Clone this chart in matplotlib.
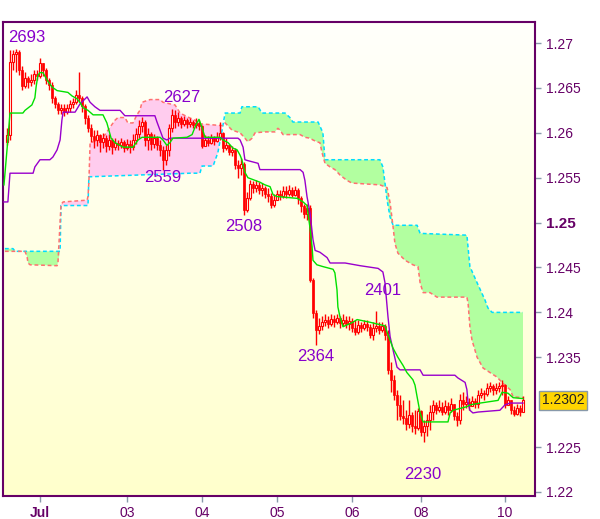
import numpy as np
import matplotlib
matplotlib.use('Agg')
import matplotlib.pyplot as plt

# prices in pips: 2598 -> 1.2598
first_open = 2590
closes = [2598, 2679, 2688, 2690, 2670, 2652, 2661, 2657, 2659, 2665,
          2663, 2678, 2670, 2659, 2653, 2639, 2632, 2625, 2628, 2623,
          2628, 2632, 2634, 2642, 2639, 2630, 2617, 2605, 2596, 2592,
          2598, 2590, 2594, 2585, 2592, 2584, 2589, 2586, 2590, 2583,
          2588, 2584, 2592, 2599, 2608, 2612, 2592, 2599, 2588, 2594,
          2586, 2581, 2570, 2581, 2605, 2620, 2612, 2617, 2610, 2614,
          2610, 2612, 2609, 2611, 2608, 2585, 2592, 2589, 2594, 2591,
          2595, 2600, 2583, 2586, 2579, 2581, 2564, 2561, 2565, 2514,
          2527, 2543, 2539, 2542, 2536, 2539, 2532, 2530, 2520, 2525,
          2532, 2530, 2535, 2532, 2536, 2531, 2536, 2527, 2519, 2510,
          2516, 2436, 2399, 2380, 2385, 2389, 2392, 2387, 2393, 2389,
          2394, 2388, 2392, 2387, 2390, 2383, 2378, 2386, 2383, 2387,
          2384, 2375, 2383, 2385, 2380, 2385, 2375, 2336, 2325, 2308,
          2297, 2285, 2282, 2276, 2286, 2273, 2271, 2290, 2267, 2273,
          2280, 2289, 2297, 2291, 2295, 2289, 2296, 2291, 2298, 2285,
          2280, 2302, 2298, 2300, 2296, 2301, 2298, 2308, 2310, 2309,
          2316, 2318, 2314, 2316, 2318, 2319, 2297, 2302, 2291, 2287,
          2293, 2289, 2302]
highs = [2605, 2692, 2692, 2693, 2692, 2674, 2668, 2663, 2665, 2670,
         2670, 2683, 2677, 2672, 2661, 2657, 2641, 2634, 2632, 2632,
         2632, 2637, 2639, 2648, 2668, 2641, 2632, 2620, 2610, 2603,
         2603, 2599, 2600, 2598, 2599, 2594, 2594, 2592, 2594, 2592,
         2593, 2592, 2599, 2605, 2614, 2618, 2614, 2605, 2601, 2599,
         2596, 2592, 2585, 2586, 2610, 2627, 2625, 2623, 2619, 2619,
         2617, 2617, 2614, 2617, 2614, 2609, 2598, 2596, 2599, 2596,
         2601, 2612, 2601, 2594, 2588, 2585, 2583, 2570, 2572, 2567,
         2534, 2547, 2546, 2547, 2545, 2544, 2541, 2539, 2533, 2532,
         2536, 2536, 2541, 2541, 2542, 2540, 2541, 2539, 2530, 2521,
         2521, 2520, 2438, 2403, 2394, 2396, 2398, 2396, 2398, 2397,
         2398, 2396, 2398, 2396, 2396, 2394, 2392, 2392, 2389, 2392,
         2392, 2387, 2389, 2401, 2389, 2389, 2387, 2380, 2345, 2330,
         2314, 2308, 2302, 2291, 2302, 2289, 2291, 2293, 2291, 2280,
         2287, 2297, 2302, 2300, 2302, 2300, 2302, 2300, 2305, 2298,
         2289, 2309, 2311, 2307, 2305, 2307, 2305, 2314, 2316, 2314,
         2321, 2322, 2320, 2321, 2322, 2325, 2320, 2307, 2302, 2296,
         2298, 2297, 2307]
lows = [2586, 2592, 2670, 2668, 2664, 2648, 2650, 2650, 2652, 2654,
        2659, 2661, 2663, 2654, 2648, 2633, 2628, 2621, 2621, 2619,
        2621, 2623, 2628, 2632, 2634, 2623, 2610, 2601, 2590, 2583,
        2585, 2579, 2583, 2579, 2581, 2576, 2581, 2581, 2583, 2579,
        2581, 2578, 2581, 2588, 2594, 2601, 2585, 2581, 2581, 2583,
        2581, 2574, 2559, 2564, 2574, 2601, 2605, 2608, 2605, 2608,
        2605, 2606, 2605, 2605, 2603, 2583, 2585, 2585, 2588, 2586,
        2590, 2592, 2579, 2581, 2575, 2574, 2560, 2550, 2553, 2508,
        2512, 2525, 2533, 2534, 2532, 2530, 2527, 2523, 2516, 2517,
        2525, 2525, 2527, 2527, 2530, 2529, 2530, 2521, 2512, 2505,
        2503, 2434, 2394, 2364, 2376, 2380, 2385, 2383, 2385, 2384,
        2387, 2383, 2385, 2383, 2380, 2378, 2375, 2376, 2378, 2380,
        2379, 2372, 2369, 2378, 2376, 2378, 2369, 2331, 2311, 2302,
        2280, 2280, 2276, 2269, 2271, 2267, 2265, 2269, 2262, 2256,
        2262, 2269, 2280, 2287, 2289, 2286, 2287, 2286, 2289, 2280,
        2273, 2276, 2291, 2293, 2291, 2296, 2293, 2293, 2305, 2302,
        2307, 2311, 2308, 2309, 2311, 2308, 2293, 2298, 2287, 2285,
        2286, 2285, 2289]

# indicator lines: (bar index, pips) at turning points
tenkan_x = [-1, 0, 1, 5.3, 6, 8.3, 9.3, 9.7, 10.3, 11, 12, 13.3, 15, 16.7, 20.3, 21.7,
            23.3, 24.3, 25.3, 27, 28.7, 32, 33.3, 34.7, 36, 38.7, 42, 43.7, 45, 51,
            52, 53.3, 54.3, 55.3, 60, 61.7, 63, 64, 65, 66, 71, 72, 73.7, 75.3, 76.7,
            77.7, 78.3, 79.3, 80.3, 84.3, 86, 87.7, 88.7, 90, 96.7, 98.7, 100, 100.3,
            101, 101.7, 102, 103.3, 105.3, 108.7, 109.3, 110, 110.3, 111, 112, 113.3,
            115.3, 116.7, 121, 126, 127, 128.7, 130.3, 132, 133.3, 135.3, 136, 136.7,
            137.7, 138.7, 147, 147.7, 148.7, 153.3, 154.3, 157.7, 163.7, 165, 167,
            168.7, 172]
tenkan_v = [2542, 2581, 2622, 2622, 2625, 2631, 2639, 2651, 2664, 2667, 2667, 2659,
            2651, 2647, 2645, 2641, 2638, 2634, 2628, 2625, 2620, 2620, 2611, 2594,
            2589, 2584, 2584, 2592, 2595, 2595, 2592, 2586, 2589, 2594, 2595, 2598,
            2609, 2615, 2606, 2595, 2595, 2592, 2589, 2583, 2581, 2575, 2570, 2556,
            2550, 2545, 2542, 2540, 2531, 2529, 2527, 2523, 2519, 2511, 2494, 2473,
            2458, 2453, 2451, 2448, 2444, 2425, 2406, 2395, 2384, 2386, 2389, 2392,
            2389, 2385, 2375, 2360, 2350, 2341, 2333, 2325, 2319, 2306, 2288, 2278,
            2278, 2288, 2291, 2295, 2297, 2299, 2302, 2311, 2310, 2305, 2304]

kijun_x = [-1, 0.3, 1, 8.7, 9.3, 11, 14.3, 15.3, 16.7, 17.7, 18.3, 18.7, 22.7, 24.3,
           26.7, 27.7, 29.3, 31, 37.7, 39.3, 49.3, 50, 51, 52, 53.3, 54.3, 77, 77.7,
           78.7, 79.3, 80.3, 83.7, 84.3, 97.7, 98.7, 99.3, 100, 101, 102, 102.7, 104.3,
           106.7, 107.7, 112.7, 117.7, 123.7, 125.3, 126, 127, 127.7, 128.7, 130, 131,
           137.7, 138.7, 149.3, 150.3, 152.7, 153.3, 153.7, 154.3, 155.3, 157, 164.3,
           166, 167.7, 172]
kijun_v = [2523, 2523, 2555, 2555, 2562, 2570, 2570, 2573, 2581, 2592, 2614, 2623,
           2623, 2632, 2640, 2634, 2629, 2625, 2625, 2619, 2619, 2612, 2603, 2594,
           2592, 2594, 2594, 2592, 2584, 2570, 2569, 2566, 2559, 2559, 2556, 2547,
           2529, 2511, 2481, 2469, 2467, 2461, 2455, 2455, 2452, 2449, 2445, 2433,
           2395, 2373, 2358, 2339, 2336, 2336, 2330, 2330, 2327, 2322, 2314, 2299,
           2291, 2288, 2289, 2291, 2297, 2299, 2299]

span_a_x = [-0.7, 2, 2.7, 17.7, 18, 27, 27.3, 61, 64.3, 65, 68.7, 70.3, 71.7, 72.7,
            77.7, 78.3, 83.7, 85, 92.7, 93.3, 94.3, 95.3, 103.7, 105.3, 106, 124.3,
            125.3, 126, 126.7, 127.7, 128.7, 136.7, 137.7, 153.3, 154.3, 156.7, 159.3,
            160.3, 161.7, 172]
span_a_v = [2471, 2471, 2468, 2468, 2519, 2519, 2551, 2555, 2555, 2563, 2563, 2578,
            2603, 2622, 2622, 2629, 2629, 2622, 2622, 2620, 2617, 2612, 2612, 2600,
            2570, 2570, 2562, 2544, 2525, 2506, 2497, 2497, 2488, 2486, 2451, 2433,
            2414, 2405, 2400, 2400]

span_b_x = [-0.7, 6, 6.7, 7, 7.7, 16.7, 17, 18, 18.7, 26.7, 27, 27.3, 27.7, 28.7, 31,
            32.7, 34.3, 36, 37, 39.3, 40.3, 42, 43.3, 44.3, 45, 47.7, 51, 52, 53.3, 56,
            57.7, 60, 62.7, 64.3, 71.7, 72.7, 75, 77.7, 79.3, 80.3, 81.7, 82.7, 86,
            89.3, 90.3, 91, 92, 97.7, 99.3, 101, 102, 103.3, 104.3, 105, 106, 107.7,
            109.3, 111, 113.3, 115, 124.3, 126.7, 127.7, 128.3, 128.7, 129.3, 130.3,
            132.7, 135.3, 137, 137.7, 138.7, 141, 143.3, 153.3, 153.7, 154.3, 155,
            156.7, 158.7, 161, 163.3, 165.3, 167.7, 168.7, 172]
span_b_v = [2468, 2468, 2462, 2455, 2453, 2452, 2456, 2520, 2523, 2525, 2529, 2545,
            2589, 2590, 2592, 2598, 2606, 2614, 2617, 2617, 2611, 2611, 2620, 2625,
            2634, 2637, 2637, 2634, 2633, 2631, 2622, 2618, 2614, 2610, 2608, 2611,
            2603, 2600, 2594, 2590, 2594, 2600, 2601, 2601, 2605, 2603, 2598, 2598,
            2595, 2594, 2592, 2590, 2589, 2578, 2566, 2562, 2559, 2553, 2547, 2544,
            2542, 2539, 2522, 2506, 2495, 2477, 2466, 2458, 2453, 2451, 2433, 2422,
            2422, 2417, 2417, 2410, 2384, 2369, 2350, 2338, 2333, 2328, 2321, 2314,
            2306, 2305]

day_bars = [11, 40, 65, 90, 115, 138, 166]
day_labels = ['Jul', '03', '04', '05', '06', '08', '10']

extreme_labels = ['2693', '2627', '2559', '2508', '2364', '2401', '2230']
extreme_bars = [6.7, 58.3, 52, 79, 103, 125.3, 138.7]
extreme_pips = [2706, 2639, 2550, 2496, 2351, 2424, 2219]

last_price = 1.2302


def px(v):
    return 1 + np.asarray(v, dtype=float) / 10000.0


RED = '#FF0000'
PURPLE_TXT = '#660066'

plt.rcParams['font.family'] = ['Liberation Sans', 'DejaVu Sans']

fig = plt.figure(figsize=(6.0, 5.19), dpi=100)
fig.patch.set_facecolor('white')
ax = fig.add_axes([3 / 600, 1 - 496 / 519, 532 / 600, 474 / 519])

xmin, xmax = -1.33, 176
ymin, ymax = 1.21955, 1.27234
ax.set_xlim(xmin, xmax)
ax.set_ylim(ymin, ymax)

# background gradient
grad = np.linspace(0, 1, 256)[:, None]
top = np.array([1.0, 1.0, 0.985])
bot = np.array([1.0, 1.0, 0.80])
img = top[None, None, :] * (1 - grad[..., None]) + bot[None, None, :] * grad[..., None]
img = np.repeat(img, 2, axis=1)
ax.imshow(img, extent=[xmin, xmax, ymin, ymax], aspect='auto', origin='upper', zorder=0)

# cloud
ax_x = np.array(span_a_x)
bx_x = np.array(span_b_x)
regions = [(-2, 17.8, '#B2FFA0'), (17.8, 72.2, '#FFCCEE'), (72.2, 180, '#B2FFA0')]
for lo, hi, col in regions:
    ma = (ax_x > lo) & (ax_x <= hi)
    mb = (bx_x > lo) & (bx_x <= hi)
    xs = np.r_[ax_x[ma], bx_x[mb][::-1]]
    ys = np.r_[px(span_a_v)[ma], px(span_b_v)[mb][::-1]]
    ax.fill(xs, ys, color=col, lw=0, zorder=1)
ax.plot(span_a_x, px(span_a_v), color='#00DDFF', lw=1.1, ls=(0, (2.5, 1.8)), zorder=2)
ax.plot(span_b_x, px(span_b_v), color='#FF7070', lw=1.1, ls=(0, (2.5, 1.8)), zorder=2)

# candles
c = px(closes)
h = px(highs)
l = px(lows)
o = np.r_[px(first_open), c[:-1]]
idx = np.arange(len(c))
up = c >= o
body_lo = np.minimum(o, c)
body_h = np.maximum(np.abs(c - o), 0.00006)
ax.vlines(idx, np.minimum(l, body_lo), np.maximum(h, body_lo + body_h), color=RED, lw=1.0, zorder=4)
ax.bar(idx[~up], body_h[~up], bottom=body_lo[~up], width=0.8, color=RED,
       edgecolor=RED, lw=0.5, zorder=5)
ax.bar(idx[up], body_h[up], bottom=body_lo[up], width=0.8, facecolor='#FFFFF0',
       edgecolor=RED, lw=0.8, zorder=5)

# tenkan / kijun
ax.plot(kijun_x, px(kijun_v), color='#9900CC', lw=1.0, zorder=6)
ax.plot(tenkan_x, px(tenkan_v), color='#00E000', lw=1.0, zorder=6)

# extreme labels
for t, xb, yp in zip(extreme_labels, extreme_bars, extreme_pips):
    ax.text(xb, px(yp), t, color='#8800CC', fontsize=12, ha='center', va='center', zorder=8)

# axes styling
for s in ax.spines.values():
    s.set_color(PURPLE_TXT)
    s.set_linewidth(1.5)
ax.yaxis.tick_right()
yt = [1.22, 1.225, 1.235, 1.24, 1.245, 1.25, 1.255, 1.26, 1.265, 1.27]
ax.set_yticks(yt)
ax.set_yticklabels(['1.22', '1.225', '1.235', '1.24', '1.245', '1.25', '1.255',
                    '1.26', '1.265', '1.27'])
ax.set_xticks(day_bars)
ax.set_xticklabels(day_labels)
ax.tick_params(axis='both', colors='#8899AA', length=4, width=1, labelcolor=PURPLE_TXT,
               labelsize=10)
ax.tick_params(axis='y', pad=4)
ax.tick_params(axis='x', pad=3)
for lab in ax.get_yticklabels():
    if lab.get_text() == '1.25':
        lab.set_fontweight('bold')
        lab.set_fontsize(11)
for lab in ax.get_xticklabels():
    if lab.get_text() == 'Jul':
        lab.set_fontweight('bold')

ax.annotate('%.4f' % last_price, xy=(1, last_price), xycoords=('axes fraction', 'data'),
            xytext=(5, 0), textcoords='offset points', ha='left', va='center',
            fontsize=10, color='#222222',
            bbox=dict(boxstyle='square,pad=0.2', fc='#FFD500', ec='#8899AA', lw=1))

fig.savefig('out.png', dpi=100)
